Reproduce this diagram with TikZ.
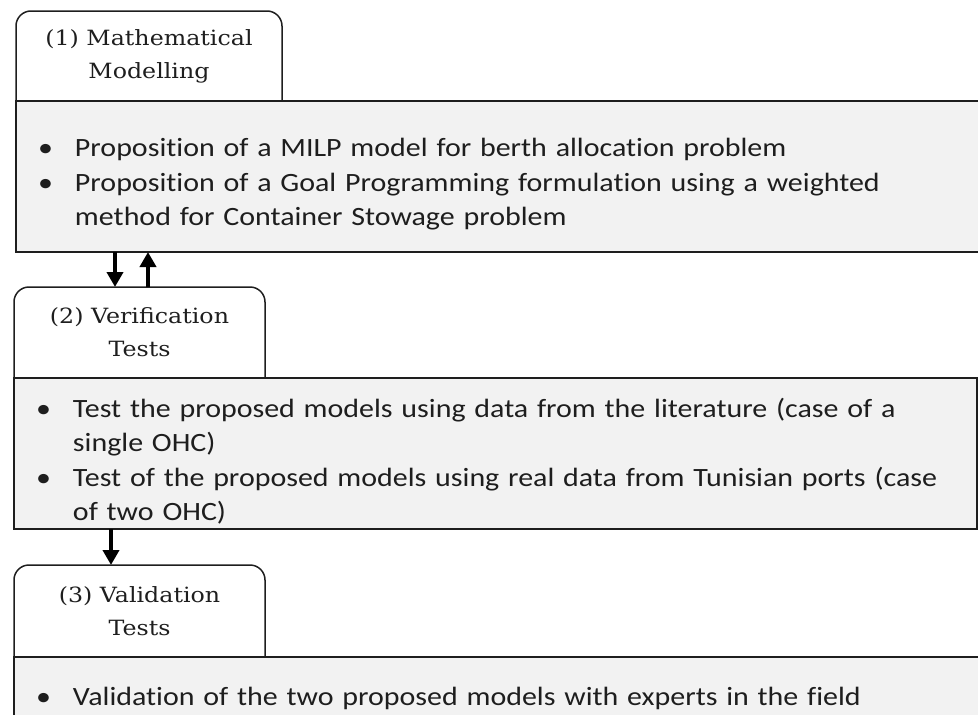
\documentclass[tikz,border=0pt]{standalone}
\usepackage{fontspec}
\newfontfamily\bodyfont{Carlito}[FakeStretch=1.135, Ligatures=NoCommon]
\newfontfamily\tabfont{DejaVu Serif}[FakeStretch=1.13]
\usetikzlibrary{arrows.meta}
\definecolor{boxgray}{HTML}{F2F2F2}
\definecolor{edge}{HTML}{1E1E1E}
\newcommand{\bitem}[1]{\par\noindent\hangindent=37pt\hangafter=1\makebox[37pt][l]{\textbullet}#1\par}

\begin{document}
\begin{tikzpicture}[x=1pt,y=-1pt,
  tab/.style={inner sep=0pt, outer sep=0pt, anchor=north west, align=center, text=edge,
    font=\tabfont\fontsize{21}{33}\selectfont},
  tabline/.style={draw=edge, line width=1.5pt, rounded corners=15pt},
  body/.style={draw=edge, line width=1.5pt, fill=boxgray, inner xsep=22pt, inner ysep=0pt,
    outer sep=0pt, anchor=north west, align=left, text=edge,
    font=\bodyfont\fontsize{26.4}{34.5}\selectfont},
  arr/.style={line width=4pt, -{Triangle[length=15pt,width=16pt]}}]
  \useasboundingbox (0,0) rectangle (978,715);
  \clip (0,0) rectangle (978,715);

  \node[tab, minimum width=266, minimum height=90] (tab1) at (16,11) {(1) Mathematical\\Modelling};
  \draw[tabline] (tab1.south west) -- (tab1.north west) -- (tab1.north east) -- (tab1.south east);
  \node[body, minimum width=972, text width=928, minimum height=151] (body1) at (tab1.south west)
    {\bitem{Proposition of a MILP model for berth allocation problem}
     \bitem{Proposition of a Goal Programming formulation using a weighted\newline method for Container Stowage problem}};

  \node[tab, minimum width=251, minimum height=91] (tab2) at (14,287) {(2) Verification\\Tests};
  \draw[tabline] (tab2.south west) -- (tab2.north west) -- (tab2.north east) -- (tab2.south east);
  \node[body, minimum width=963, text width=919, minimum height=151] (body2) at (tab2.south west)
    {\bitem{Test the proposed models using data from the literature (case of a\newline single OHC)}
     \bitem{Test of the proposed models using real data from Tunisian ports (case\newline of two OHC)}};

  \node[tab, minimum width=251, minimum height=92] (tab3) at (14,565) {(3) Validation\\Tests};
  \draw[tabline] (tab3.south west) -- (tab3.north west) -- (tab3.north east) -- (tab3.south east);
  \node[body, minimum width=972, text width=928, minimum height=66] (body3) at (tab3.south west)
    {\bitem{Validation of the two proposed models with experts in the field}};

  \coordinate (down1) at ([xshift=-24.5pt]tab2.north);
  \coordinate (up1) at ([xshift=8.5pt]tab2.north);
  \coordinate (down2) at ([xshift=-28.5pt]tab3.north);
  \draw[arr] (down1 |- body1.south) -- (down1);
  \draw[arr] (up1) -- (up1 |- body1.south);
  \draw[arr] (down2 |- body2.south) -- (down2);
\end{tikzpicture}
\end{document}
